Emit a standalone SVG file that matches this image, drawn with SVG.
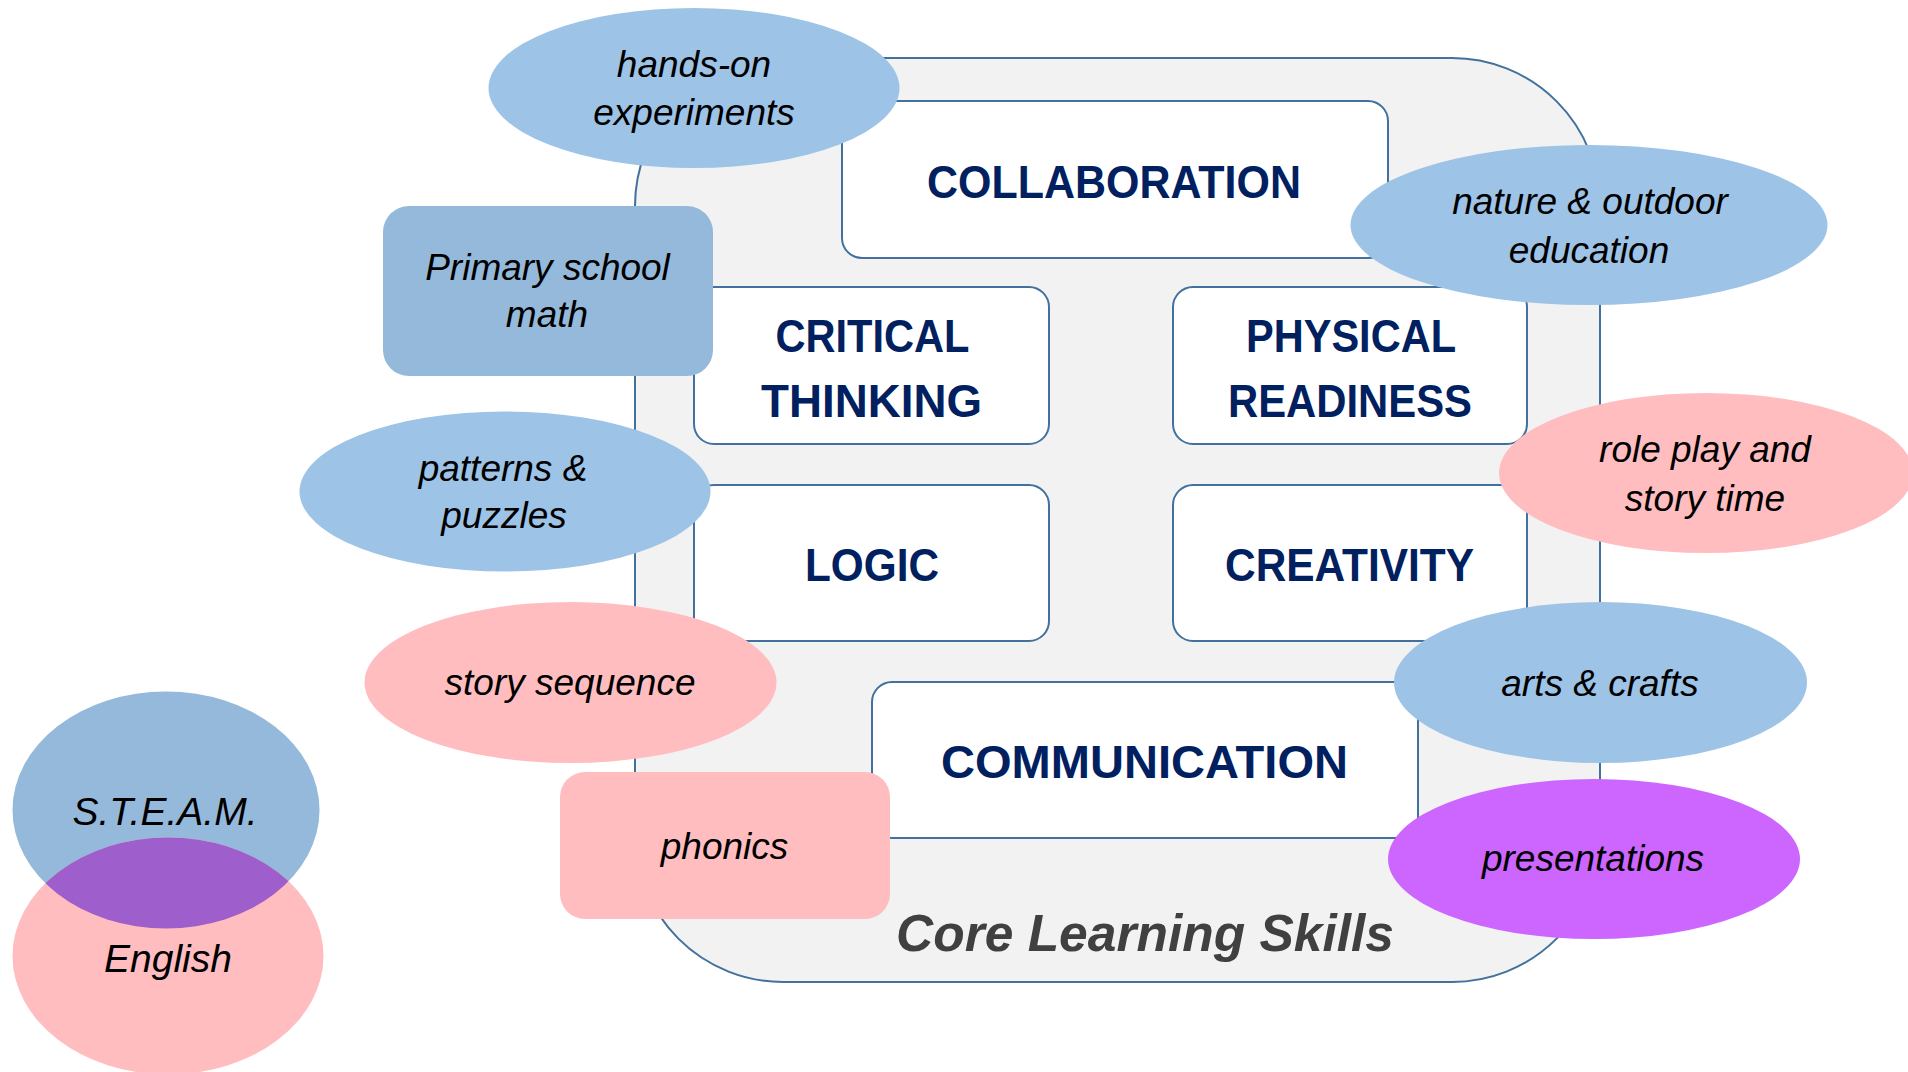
<svg xmlns="http://www.w3.org/2000/svg" width="1908" height="1072" viewBox="0 0 1908 1072">
<style>
.bg{fill:#ffffff}
.container{fill:#f2f2f2;stroke:#41719c;stroke-width:2}
.box{fill:#ffffff;stroke:#41719c;stroke-width:2}
.skill{font-family:"Liberation Sans",Arial,sans-serif;font-weight:bold;font-size:47px;fill:#002060;text-anchor:middle}
.title{font-family:"Liberation Sans",Arial,sans-serif;font-weight:bold;font-style:italic;font-size:51.5px;fill:#404040;text-anchor:middle}
.lbl{font-family:"Liberation Sans",Arial,sans-serif;font-style:italic;font-size:37px;fill:#000000;text-anchor:middle}
.venn{font-family:"Liberation Sans",Arial,sans-serif;font-style:italic;font-size:39px;fill:#000000;text-anchor:middle}
.lblue{fill:#9dc3e6}
.mblue{fill:#95b9db}
.pink{fill:#ffbdc0}
.purple{fill:#cc66ff}
.overlap{fill:#9e5ecb}
</style>
<defs>
<clipPath id="clipEnglish"><ellipse cx="168" cy="956" rx="155.5" ry="118.5"/></clipPath>
</defs>
<rect class="bg" x="0" y="0" width="1908" height="1072"/>

<g id="core-learning-skills">
<rect class="container" x="635" y="58" width="965" height="924" rx="148" ry="148"/>
<text class="title" x="1145" y="951">Core Learning Skills</text>
</g>

<g id="collaboration">
<rect class="box" x="842" y="101" width="546" height="157" rx="20"/>
<text class="skill" x="1114" y="198" textLength="374" lengthAdjust="spacingAndGlyphs">COLLABORATION</text>
</g>
<g id="critical-thinking">
<rect class="box" x="694" y="287" width="355" height="157" rx="20"/>
<text class="skill" x="872.5" y="352" textLength="194" lengthAdjust="spacingAndGlyphs">CRITICAL</text>
<text class="skill" x="871.5" y="417" textLength="221" lengthAdjust="spacingAndGlyphs">THINKING</text>
</g>
<g id="physical-readiness">
<rect class="box" x="1173" y="287" width="354" height="157" rx="20"/>
<text class="skill" x="1351" y="352" textLength="210" lengthAdjust="spacingAndGlyphs">PHYSICAL</text>
<text class="skill" x="1350" y="417" textLength="244" lengthAdjust="spacingAndGlyphs">READINESS</text>
</g>
<g id="logic">
<rect class="box" x="694" y="485" width="355" height="156" rx="20"/>
<text class="skill" x="872" y="581" textLength="134" lengthAdjust="spacingAndGlyphs">LOGIC</text>
</g>
<g id="creativity">
<rect class="box" x="1173" y="485" width="354" height="156" rx="20"/>
<text class="skill" x="1349.5" y="581" textLength="249" lengthAdjust="spacingAndGlyphs">CREATIVITY</text>
</g>
<g id="communication">
<rect class="box" x="872" y="682" width="546" height="156" rx="20"/>
<text class="skill" x="1144.5" y="778" textLength="407" lengthAdjust="spacingAndGlyphs">COMMUNICATION</text>
</g>

<g id="hands-on-experiments">
<ellipse class="lblue" cx="694" cy="88" rx="205.5" ry="80"/>
<text class="lbl" x="694" y="77">hands-on</text>
<text class="lbl" x="694" y="125">experiments</text>
</g>
<g id="nature-outdoor-education">
<ellipse class="lblue" cx="1589" cy="225" rx="238.5" ry="80"/>
<text class="lbl" x="1590" y="214">nature &amp; outdoor</text>
<text class="lbl" x="1589" y="262.5">education</text>
</g>
<g id="primary-school-math">
<rect class="mblue" x="383" y="206" width="330" height="170" rx="26"/>
<text class="lbl" x="547.5" y="280">Primary school</text>
<text class="lbl" x="547" y="327">math</text>
</g>
<g id="patterns-puzzles">
<ellipse class="lblue" cx="505" cy="491.5" rx="205.5" ry="80"/>
<text class="lbl" x="503" y="481">patterns &amp;</text>
<text class="lbl" x="504" y="528">puzzles</text>
</g>
<g id="story-sequence">
<ellipse class="pink" cx="570.5" cy="682.5" rx="206" ry="80.5"/>
<text class="lbl" x="570" y="695">story sequence</text>
</g>
<g id="phonics">
<rect class="pink" x="560" y="772" width="330" height="147" rx="25"/>
<text class="lbl" x="724.5" y="858.5">phonics</text>
</g>
<g id="role-play-story-time">
<ellipse class="pink" cx="1706" cy="473" rx="207" ry="80"/>
<text class="lbl" x="1705" y="462">role play and</text>
<text class="lbl" x="1705" y="510.5">story time</text>
</g>
<g id="arts-crafts">
<ellipse class="lblue" cx="1600.5" cy="682.5" rx="206.5" ry="80.5"/>
<text class="lbl" x="1600" y="695.5">arts &amp; crafts</text>
</g>
<g id="presentations">
<ellipse class="purple" cx="1594" cy="859" rx="206" ry="80"/>
<text class="lbl" x="1593" y="871">presentations</text>
</g>

<g id="steam">
<ellipse class="mblue" cx="166" cy="810" rx="153.5" ry="118.5"/>
</g>
<g id="english">
<ellipse class="pink" cx="168" cy="956" rx="155.5" ry="118.5"/>
</g>
<g id="steam-english-overlap">
<ellipse class="overlap" cx="166" cy="810" rx="153.5" ry="118.5" clip-path="url(#clipEnglish)"/>
</g>
<g id="venn-labels">
<text class="venn" x="165" y="825">S.T.E.A.M.</text>
<text class="venn" x="168" y="972">English</text>
</g>
</svg>
